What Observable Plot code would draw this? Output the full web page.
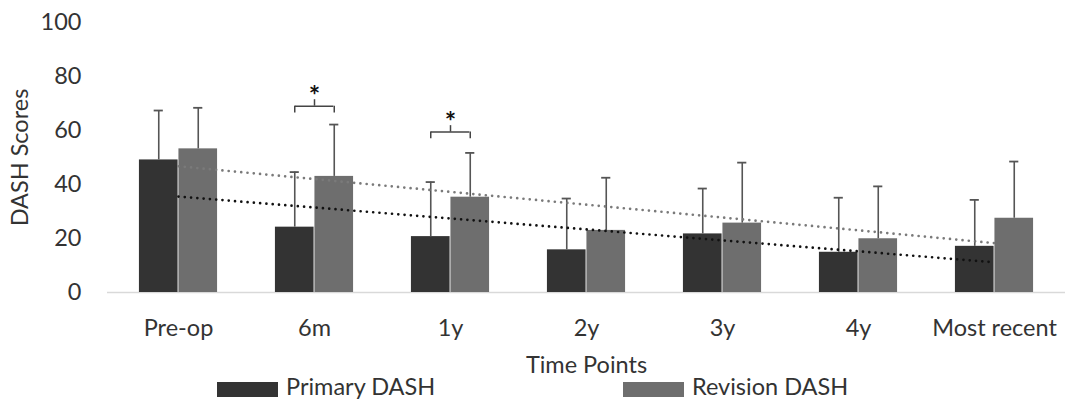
<!DOCTYPE html>
<html>
<head>
<meta charset="utf-8">
<script src="https://cdn.jsdelivr.net/npm/d3@7"></script>
<script src="https://cdn.jsdelivr.net/npm/@observablehq/plot@0.6"></script>
<style>
  body { margin: 0; background: #fff; }
  #wrap { position: relative; width: 1065px; height: 399px; overflow: hidden; font-family: Lato, "Open Sans", sans-serif; color: #333; }
  #chart { position: absolute; left: 0; top: 0; }
  #legend { position: absolute; left: 0; top: 375px; width: 1065px; height: 24px; font-size: 23.5px; line-height: 24px; }
  .item { position: absolute; top: 0; height: 24px; white-space: nowrap; }
  .sw { position: absolute; left: 0; top: 6.5px; width: 61px; height: 15.5px; }
  .lbl { position: absolute; left: 69px; top: -1.5px; }
</style>
</head>
<body>
<div id="wrap">
  <div id="chart"></div>
  <div id="legend"></div>
</div>
<script>
const categories = ["Pre-op", "6m", "1y", "2y", "3y", "4y", "Most recent"];
const primaryMean = [49.1, 24.2, 20.7, 15.8, 21.7, 14.9, 17.1];
const primarySD   = [18.3, 20.4, 20.2, 19.0, 16.8, 20.2, 17.2];
const revisionMean = [53.2, 43.0, 35.3, 23.0, 25.7, 19.9, 27.5];
const revisionSD   = [15.2, 19.2, 16.4, 19.5, 22.4, 19.4, 21.0];
const sigCategories = ["6m", "1y"];
const sigLevels = [69.0, 59.4];
const seriesNames = ["Primary DASH", "Revision DASH"];
const seriesColors = ["#333333", "#6e6e6e"];
const trendColors = ["#111111", "#7a7a7a"];
const yTicks = [0, 20, 40, 60, 80, 100];

function fit(vals) {
  const xs = vals.map((_, i) => i);
  const mx = d3.mean(xs), my = d3.mean(vals);
  const sxy = d3.sum(xs, (x, i) => (x - mx) * (vals[i] - my));
  const sxx = d3.sum(xs, x => (x - mx) ** 2);
  const b = sxy / sxx, a = my - b * mx;
  return xs.map(x => a + b * x);
}

const primary = categories.map((c, i) => ({cat: c, mean: primaryMean[i], sd: primarySD[i]}));
const revision = categories.map((c, i) => ({cat: c, mean: revisionMean[i], sd: revisionSD[i]}));
const primaryFit = fit(primaryMean).map((v, i) => ({cat: categories[i], v}));
const revisionFit = fit(revisionMean).map((v, i) => ({cat: categories[i], v}));
const sig = sigCategories.map((c, i) => ({cat: c, level: sigLevels[i]}));

const W = 1065, H = 399, ML = 107, MR = 0, MT = 22, MB = 107;
const bw = (W - ML - MR) / categories.length;
const barW = 39.5, off = barW / 2, capW = 10;
const errStroke = "#555555";

const chart = Plot.plot({
  width: W, height: H,
  marginLeft: ML, marginRight: MR, marginTop: MT, marginBottom: MB,
  style: {fontFamily: "Lato, 'Open Sans', sans-serif", fontSize: "23.5px", color: "#333", background: "#fff"},
  x: {domain: categories, padding: 0, tickSize: 0, tickPadding: 27, label: "Time Points", labelAnchor: "center", labelOffset: 80, labelArrow: "none"},
  y: {domain: [0, 100], ticks: yTicks, tickSize: 0, tickPadding: 26, label: "DASH Scores", labelAnchor: "center", labelOffset: 96, labelArrow: "none"},
  marks: [
    Plot.ruleY([0], {stroke: "#d9d9d9", strokeWidth: 1.5}),
    Plot.barY(primary, {x: "cat", y: "mean", fill: seriesColors[0], insetLeft: bw / 2 - barW, insetRight: bw / 2}),
    Plot.barY(revision, {x: "cat", y: "mean", fill: seriesColors[1], insetLeft: bw / 2, insetRight: bw / 2 - barW}),
    Plot.ruleX(primary, {x: "cat", y1: "mean", y2: d => d.mean + d.sd, dx: -off, stroke: errStroke, strokeWidth: 1.6}),
    Plot.ruleX(revision, {x: "cat", y1: "mean", y2: d => d.mean + d.sd, dx: off, stroke: errStroke, strokeWidth: 1.6}),
    Plot.tickY(primary, {x: "cat", y: d => d.mean + d.sd, dx: -off, insetLeft: (bw - capW) / 2, insetRight: (bw - capW) / 2, stroke: errStroke, strokeWidth: 1.8}),
    Plot.tickY(revision, {x: "cat", y: d => d.mean + d.sd, dx: off, insetLeft: (bw - capW) / 2, insetRight: (bw - capW) / 2, stroke: errStroke, strokeWidth: 1.8}),
    Plot.line(primaryFit, {x: "cat", y: "v", stroke: trendColors[0], strokeWidth: 2.7, strokeDasharray: "0 6.3", strokeLinecap: "round"}),
    Plot.line(revisionFit, {x: "cat", y: "v", stroke: trendColors[1], strokeWidth: 2.7, strokeDasharray: "0 6.3", strokeLinecap: "round"}),
    Plot.tickY(sig, {x: "cat", y: "level", insetLeft: bw / 2 - off, insetRight: bw / 2 - off, stroke: "#444", strokeWidth: 1.5}),
    Plot.ruleX(sig, {x: "cat", y1: d => d.level - 2.5, y2: "level", dx: -off, stroke: "#444", strokeWidth: 1.5}),
    Plot.ruleX(sig, {x: "cat", y1: d => d.level - 2.5, y2: "level", dx: off, stroke: "#444", strokeWidth: 1.5}),
    Plot.ruleX(sig, {x: "cat", y1: "level", y2: d => d.level + 2.4, stroke: "#444", strokeWidth: 1.5}),
    Plot.text(sig, {x: "cat", y: d => d.level + 3.8, text: () => "*", fontSize: 27, fontWeight: "bold", fill: "#111"})
  ]
});
document.getElementById("chart").append(chart);

const legend = document.getElementById("legend");
const lefts = [217, 623];
seriesNames.forEach((name, i) => {
  const it = document.createElement("div");
  it.className = "item";
  it.style.left = lefts[i] + "px";
  const sw = document.createElement("div");
  sw.className = "sw";
  sw.style.background = seriesColors[i];
  const t = document.createElement("span");
  t.className = "lbl";
  t.textContent = name;
  it.append(sw, t);
  legend.append(it);
});
</script>
</body>
</html>
